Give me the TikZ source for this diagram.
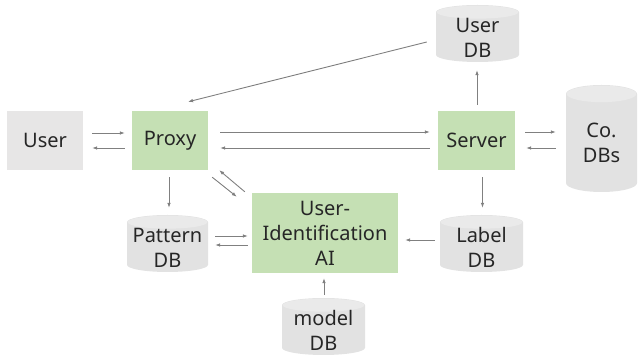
\documentclass[tikz,border=0pt]{standalone}
\usepackage{fontspec}
\setmainfont{Noto Sans}
\usetikzlibrary{calc,arrows.meta}
\definecolor{boxgreen}{HTML}{C5E0B4}
\definecolor{boxgray}{HTML}{E7E6E6}
\definecolor{dbbody}{HTML}{E2E2E2}
\definecolor{dbtop}{HTML}{EAEAEA}
\definecolor{arrowgray}{HTML}{808080}
\newcommand\dbtxt[1]{\raisebox{-11.5pt}[0pt][0pt]{\begin{tabular}{@{}c@{}}#1\end{tabular}}}
\begin{document}
\begin{tikzpicture}[x=1pt,y=-1pt,
  every node/.style={font=\fontsize{20}{25}\selectfont, align=center, inner sep=0pt, text=black!85},
  greenbox/.style={rectangle, fill=boxgreen},
  graybox/.style={rectangle, fill=boxgray},
  db/.style={rectangle, path picture={
    \fill[dbbody] let \p1=(path picture bounding box.north west),
                      \p2=(path picture bounding box.south east),
                      \n1={(\x2-\x1)/2},
                      \n2={0.125*min(\x2-\x1,\y1-\y2)} in
      (\x1,\y1-\n2) -- (\x1,\y2+\n2)
      arc[start angle=180,end angle=360,x radius=\n1,y radius=\n2]
      -- (\x2,\y1-\n2)
      arc[start angle=0,end angle=180,x radius=\n1,y radius=\n2] -- cycle;
    \fill[dbtop] let \p1=(path picture bounding box.north west),
                     \p2=(path picture bounding box.south east),
                     \n1={(\x2-\x1)/2},
                     \n2={0.125*min(\x2-\x1,\y1-\y2)} in
      (\x1+\n1,\y1-\n2) ellipse[x radius=\n1-0.6pt,y radius=\n2-0.6pt];
  }},
  arr/.style={draw=arrowgray, line width=0.9pt, -{Latex[length=5pt,width=3.6pt]}}
]
\useasboundingbox (0,0) rectangle (638,355);

\node[graybox, minimum width=76pt, minimum height=59pt] (user) at (45,140.5) {User};
\node[greenbox, minimum width=76pt, minimum height=59pt] (proxy) at (170,140.5) {Proxy};
\node[greenbox, minimum width=77pt, minimum height=59pt] (server) at (476.5,140.5) {Server};
\node[greenbox, minimum width=146pt, minimum height=80pt] (ai) at (325,233) {User-\\Identification\\AI};
\node[db, minimum width=81pt, minimum height=57pt] (pattern) at (167.5,243.5) {\dbtxt{Pattern\\DB}};
\node[db, minimum width=83pt, minimum height=57pt] (label) at (481.5,243.5) {\dbtxt{Label\\DB}};
\node[db, minimum width=83pt, minimum height=57pt] (model) at (323.5,326.5) {\dbtxt{model\\DB}};
\node[db, minimum width=83pt, minimum height=57pt] (userdb) at (477.5,33.5) {\dbtxt{User\\DB}};
\node[db, minimum width=71pt, minimum height=107pt] (codb) at (601.5,138.5) {\dbtxt{Co.\\DBs}};

% User <-> Proxy
\draw[arr] ($(user.east)+(9,-7.5)$) -- ($(proxy.west)+(-7,-7.5)$);
\draw[arr] ($(proxy.west)+(-7,7.5)$) -- ($(user.east)+(9,7.5)$);
% Proxy <-> Server
\draw[arr] ($(proxy.east)+(12,-8.5)$) -- ($(server.west)+(-8,-8.5)$);
\draw[arr] ($(server.west)+(-8,7.5)$) -- ($(proxy.east)+(12,7.5)$);
% Server <-> Co. DBs
\draw[arr] ($(server.east)+(10,-8.5)$) -- ($(codb.west)+(-10,-6.5)$);
\draw[arr] ($(codb.west)+(-10,9.5)$) -- ($(server.east)+(11,7.5)$);
% Server -> User DB
\draw[arr] ($(server.north)+(0.5,-6)$) -- ($(userdb.south)+(-0.5,8)$);
% User DB -> Proxy
\draw[arr] ($(userdb.west)+(-9,8.5)$) -- ($(proxy.north)+(18,-9)$);
% Proxy -> Pattern DB
\draw[arr] ($(proxy.south)+(-1,7)$) -- ($(pattern.north)+(1.5,-7)$);
% Proxy <-> AI
\draw[arr] ($(proxy.south east)+(4,7)$) -- ($(ai.north west)+(-15,4)$);
\draw[arr] ($(ai.north west)+(-7,-1)$) -- ($(proxy.south east)+(11,0)$);
% Pattern <-> AI
\draw[arr] ($(pattern.east)+(7,-7.5)$) -- ($(ai.west)+(-4,3)$);
\draw[arr] ($(ai.west)+(-4,12)$) -- ($(pattern.east)+(7,1.5)$);
% Server -> Label DB
\draw[arr] ($(server.south)+(6,7)$) -- ($(label.north)+(1,-7)$);
% Label DB -> AI
\draw[arr] ($(label.west)+(-5,-3.5)$) -- ($(ai.east)+(7,7)$);
% model DB -> AI
\draw[arr] ($(model.north)+(0.5,-3)$) -- ($(ai.south)+(-1,5)$);
\end{tikzpicture}
\end{document}
